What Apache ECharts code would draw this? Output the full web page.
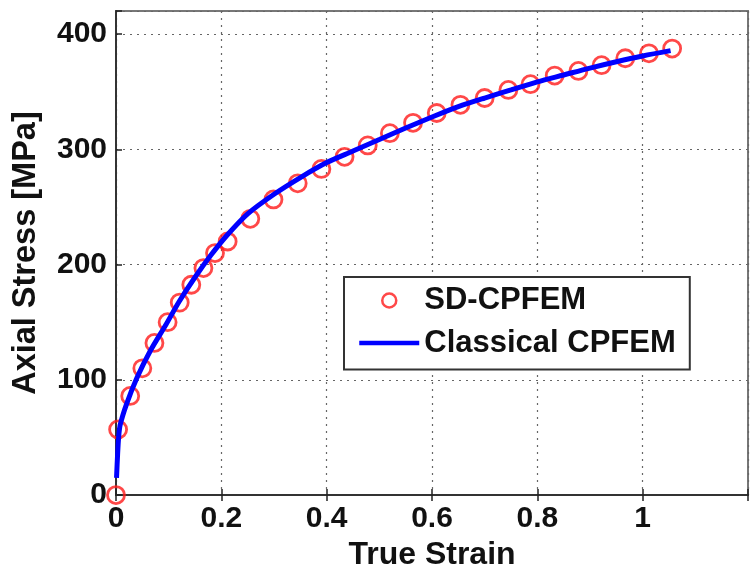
<!DOCTYPE html>
<html>
<head>
<meta charset="utf-8">
<script src="https://cdn.jsdelivr.net/npm/echarts@6/dist/echarts.min.js"></script>
<style>
html,body{margin:0;padding:0;background:#fff;}
#chart{width:751px;height:576px;}
</style>
</head>
<body>
<div id="chart"></div>
<script>
// SD-CPFEM markers
const sdStrain = [0, 0.004, 0.027, 0.050, 0.073, 0.098, 0.121, 0.143, 0.166, 0.188, 0.212, 0.255, 0.299, 0.345, 0.390, 0.434, 0.478, 0.520, 0.564, 0.609, 0.654, 0.700, 0.745, 0.787, 0.833, 0.878, 0.922, 0.967, 1.012, 1.056];
const sdStress = [0, 57, 86, 110, 132, 150, 167, 182.5, 197, 210, 220, 239.7, 256.5, 270.5, 283, 293.5, 303.4, 314, 323, 331.5, 338.6, 344.5, 351.5, 356.5, 364, 368, 373, 379, 383.3, 387.4];
// Classical CPFEM curve
const clStrain = [0.001, 0.003, 0.005, 0.008, 0.02, 0.04, 0.065, 0.095, 0.12, 0.15, 0.18, 0.21, 0.25, 0.3, 0.35, 0.4, 0.45, 0.5, 0.55, 0.6, 0.65, 0.7, 0.75, 0.8, 0.85, 0.9, 0.95, 1.0, 1.053];
const clStress = [15, 35, 50, 61, 79, 102, 125, 148, 168, 189, 208, 225, 244, 261, 275.5, 288.5, 298.5, 308.5, 318.5, 328, 337, 344.5, 351.5, 358.5, 364.5, 370.5, 376, 381, 385.6];
// axes
const xTicks = [0, 0.2, 0.4, 0.6, 0.8, 1];
const yTicks = [0, 100, 200, 300, 400];
const seriesNames = ['SD-CPFEM', 'Classical CPFEM'];
const xTitle = 'True Strain';
const yTitle = 'Axial Stress [MPa]';

const FONT = '"Liberation Sans", Arial, Helvetica, sans-serif';
const chart = echarts.init(document.getElementById('chart'), null, {renderer: 'canvas'});

const splitStyle = {show: true, lineStyle: {color: '#666', type: [2, 5], width: 1.2}};

chart.setOption({
  animation: false,
  backgroundColor: '#fff',
  grid: {left: 116, right: -4, top: 11, bottom: 78, show: true, borderColor: '#777', borderWidth: 2, backgroundColor: '#fff'},
  legend: {
    orient: 'vertical', left: 344, top: 277,
    backgroundColor: '#fff', borderColor: '#333', borderWidth: 2,
    padding: [8, 14, 11, 13], itemGap: 11.6, itemWidth: 60, itemHeight: 14,
    textStyle: {fontSize: 31, fontWeight: 'bold', fontFamily: FONT, color: '#111', lineHeight: 31},
    data: [
      {name: seriesNames[0], icon: 'circle', itemStyle: {color: 'rgba(0,0,0,0)', borderColor: '#ff1a1a', borderWidth: 2.5}},
      {name: seriesNames[1], itemStyle: {color: 'rgba(0,0,0,0)', borderColor: 'rgba(0,0,0,0)', borderWidth: 0, opacity: 0}, lineStyle: {width: 4.5, color: '#0000ff', opacity: 1}}
    ]
  },
  xAxis: [{
    type: 'value', min: 0, max: 1.2, interval: 0.2,
    name: xTitle, nameLocation: 'middle', nameGap: 43,
    nameTextStyle: {fontSize: 32, fontWeight: 'bold', fontFamily: FONT, color: '#111'},
    axisLine: {show: true, onZero: false, lineStyle: {color: '#333', width: 2}},
    axisTick: {show: true, inside: true, length: 6, lineStyle: {color: '#222', width: 1.5}},
    axisLabel: {
      margin: 9, fontSize: 30, fontWeight: 'bold', fontFamily: FONT, color: '#111',
      formatter: v => xTicks.some(t => Math.abs(t - v) < 1e-6) ? String(+v.toFixed(1)) : ''
    },
    splitLine: splitStyle
  }, {
    type: 'value', position: 'top', min: 0, max: 1.2, interval: 0.2,
    axisLine: {show: false},
    axisTick: {show: true, inside: true, length: 6, lineStyle: {color: '#222', width: 1.5}},
    axisLabel: {show: false}, splitLine: {show: false}
  }],
  yAxis: {
    type: 'value', min: 0, max: 420, interval: 100,
    name: yTitle, nameLocation: 'middle', nameGap: 73,
    nameTextStyle: {fontSize: 32.5, fontWeight: 'bold', fontFamily: FONT, color: '#111'},
    axisLine: {show: true, onZero: false, lineStyle: {color: '#333', width: 2}},
    axisTick: {show: true, inside: true, length: 6, lineStyle: {color: '#222', width: 1.5}},
    axisLabel: {
      margin: 9, fontSize: 30, fontWeight: 'bold', fontFamily: FONT, color: '#111',
      formatter: v => yTicks.indexOf(v) >= 0 ? String(v) : ''
    },
    splitLine: splitStyle
  },
  series: [{
    name: seriesNames[0], type: 'scatter', xAxisIndex: 0,
    symbol: 'circle', symbolSize: 17,
    itemStyle: {color: 'rgba(0,0,0,0)', borderColor: '#ff1a1a', borderWidth: 2.8},
    data: sdStrain.map((x, i) => [x, sdStress[i]]), z: 2
  }, {
    name: seriesNames[1], type: 'line', xAxisIndex: 0,
    symbol: 'none', showSymbol: false, smooth: 0.3,
    lineStyle: {color: '#0000ff', width: 5},
    itemStyle: {color: '#0000ff'},
    data: clStrain.map((x, i) => [x, clStress[i]]), z: 3
  }]
});
</script>
</body>
</html>
